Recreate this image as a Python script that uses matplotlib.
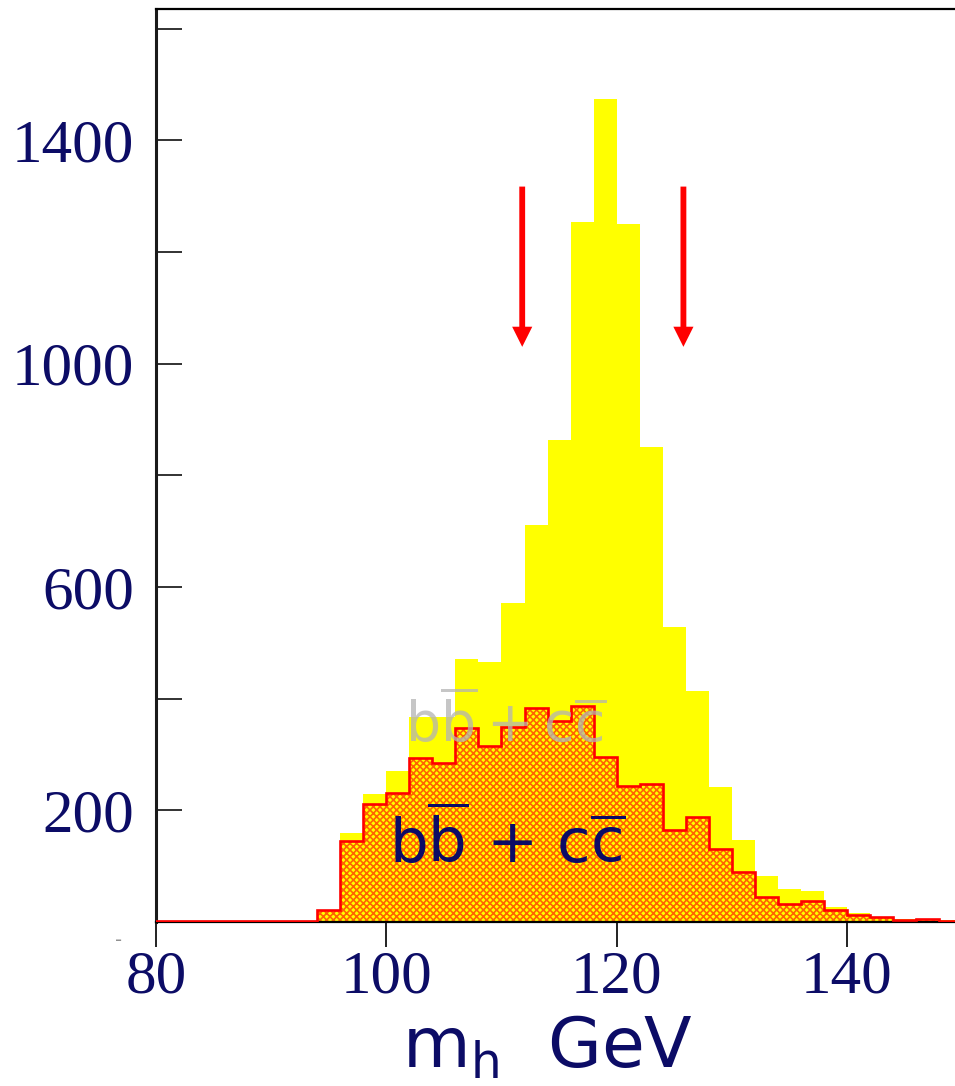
import matplotlib
matplotlib.use('Agg')
import matplotlib.pyplot as plt
from matplotlib.ticker import FixedLocator

# ---------------- data ----------------
bin_edges = list(range(80, 151, 2))          # 2 GeV bins, 80..150
total_counts = [2, 2, 2, 2, 2, 2, 2,
                22, 159, 230, 271, 368, 368, 471, 466, 572, 711, 863,
                1253, 1473, 1250, 850, 529, 414, 241, 146, 82, 60, 55,
                26, 15.5, 9.5, 6, 5, 3]
bbcc_counts = [1.5, 1.5, 1.5, 1.5, 1.5, 1.5, 1.5,
               22, 145, 212, 231, 294, 284, 347, 315, 350, 383, 360,
               387, 296, 244, 247, 164, 188, 130, 90, 45, 33, 38,
               21.5, 12.5, 8.4, 3.6, 4.8, 2.4]
window_positions = [111.8, 125.8]
arrow_tail, arrow_tip = 1317, 1030
y_major = [200, 600, 1000, 1400]
y_minor = [400, 800, 1200, 1600]
x_ticks = [80, 100, 120, 140]

NAVY = '#0c0c66'
plt.rcParams['hatch.linewidth'] = 1.2
plt.rcParams['mathtext.fontset'] = 'dejavusans'

fig = plt.figure(figsize=(9.55, 10.86), dpi=100)
ax = fig.add_axes([0.1634, 0.151, 0.844, 0.8407])

# total (yellow) histogram
ax.stairs(total_counts, bin_edges, fill=True, facecolor='#ffff00',
          edgecolor='none', linewidth=0, zorder=1)
# b bbar + c cbar (hatched) histogram
ax.stairs(bbcc_counts, bin_edges, fill=True, facecolor='#ffff00',
          edgecolor='#ff6400', linewidth=0, hatch='xxxxx', zorder=2)
ax.stairs(bbcc_counts, bin_edges, fill=False, edgecolor='#ff0000',
          linewidth=1.9, zorder=3)

# mass-window arrows
for xp in window_positions:
    ax.annotate('', xy=(xp, arrow_tip), xytext=(xp, arrow_tail),
                arrowprops=dict(width=4.2, headwidth=14.5, headlength=14.5,
                                color='#ff0000', lw=0, shrink=0),
                zorder=5)

# faint ghost label from the underlying picture
ax.text(101.6, 322, r'$\mathrm{b\overline{b}+c\overline{c}}$', color='#b4b4b4',
        fontsize=40, ha='left', va='baseline', zorder=4, alpha=0.75)
# main label
ax.text(100.2, 106, r'$\mathrm{b\overline{b}}$ + $\mathrm{c\overline{c}}$', color=NAVY,
        fontsize=44, ha='left', va='baseline', zorder=6)

ax.set_xlim(80, 150)
ax.set_ylim(0, 1635)

ax.yaxis.set_major_locator(FixedLocator(y_major))
ax.yaxis.set_minor_locator(FixedLocator(y_minor))
ax.set_yticklabels([str(v) for v in y_major])
ax.xaxis.set_major_locator(FixedLocator(x_ticks))
ax.set_xticklabels([str(v) for v in x_ticks])

ax.tick_params(axis='y', which='both', direction='in', length=18.5, width=1.3,
               color='#222222', pad=16, labelsize=44, labelcolor=NAVY,
               right=False)
ax.tick_params(axis='x', which='both', direction='out', length=18, width=1.4,
               color='#222222', pad=2, labelsize=44, labelcolor=NAVY,
               top=False)
for lab in ax.get_xticklabels() + ax.get_yticklabels():
    lab.set_fontfamily('Liberation Serif')

ax.spines['left'].set_linewidth(2.2)
ax.spines['left'].set_color('#1a1a1a')
ax.spines['top'].set_linewidth(1.6)
ax.spines['bottom'].set_linewidth(1.6)
ax.spines['right'].set_visible(False)

# axis title
fig.text(0.573, 0.0166, r'$\mathrm{m_h}$  GeV', color=NAVY, fontsize=50,
         ha='center', va='baseline')
fig.text(0.124, 0.134, '-', color='#909090', fontsize=14, ha='center', va='center')

fig.savefig('out.png', dpi=100)
